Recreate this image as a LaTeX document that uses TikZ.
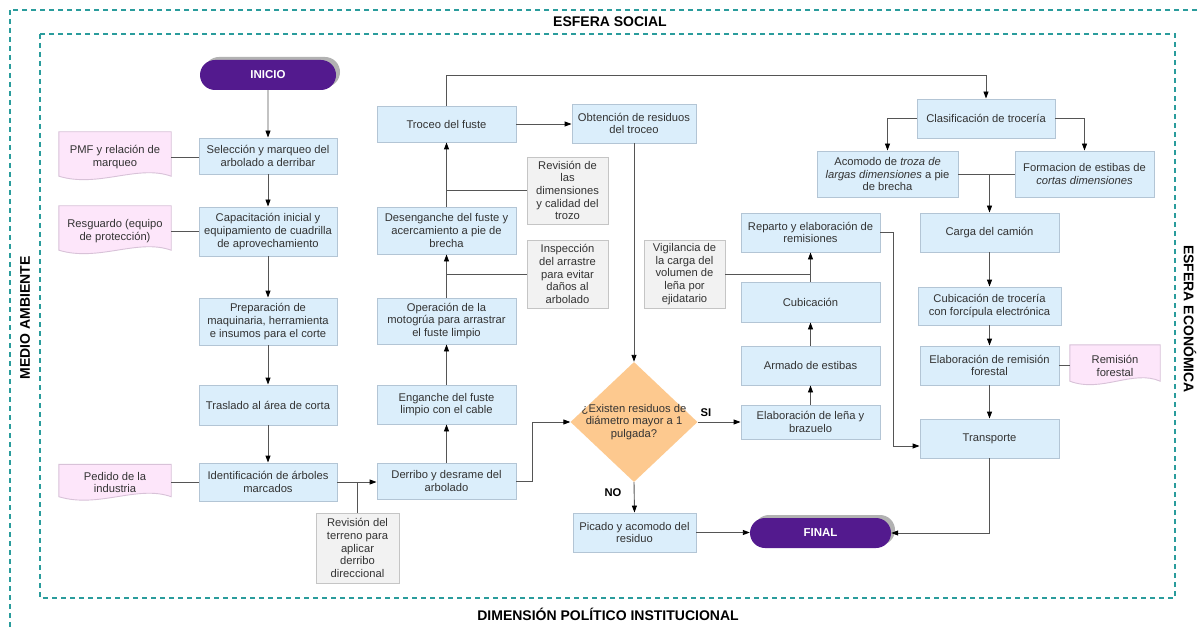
\documentclass[tikz,border=0pt]{standalone}
\usepackage{fontspec}
\setmainfont{Liberation Sans}
\usetikzlibrary{shapes.misc,shapes.geometric,arrows.meta,calc,backgrounds,shadows}
\definecolor{boxfill}{HTML}{DBEEFB}
\definecolor{boxline}{HTML}{B3C5D5}
\definecolor{docfill}{HTML}{FDE6FA}
\definecolor{docline}{HTML}{D8C2D8}
\definecolor{grayfill}{HTML}{F2F2F2}
\definecolor{grayline}{HTML}{C5C5C5}
\definecolor{dfill}{HTML}{FDC98F}
\definecolor{purp}{HTML}{531A8E}
\definecolor{tealc}{HTML}{2A9C9C}
\definecolor{conn}{HTML}{555555}
\definecolor{txt}{HTML}{333333}
\newcommand\docshape[2]{%
  \filldraw[fill=docfill, draw=docline, line width=0.9pt]
   (#1.north west) -- (#1.north east) -- ([yshift=#2]#1.south east)
   .. controls ($(#1.south west)!0.7!(#1.south east)+(0,12pt)+(0,#2)$)
   and ($(#1.south west)!0.35!(#1.south east)+(0,-12pt)+(0,#2)$)
   .. ([yshift=#2]#1.south west) -- cycle;}
\begin{document}
\begin{tikzpicture}[x=1pt,y=-1pt,
  font=\fontsize{11.2}{12.7}\selectfont,
  base/.style={align=center, inner sep=0pt, text=txt},
  box/.style={base, rectangle, draw=boxline, fill=boxfill, line width=0.9pt},
  note/.style={base, rectangle, draw=grayline, fill=grayfill, line width=0.9pt},
  doc/.style={base},
  term/.style={rounded rectangle, fill=purp, text=white, inner sep=0pt,
     font=\fontsize{11.5}{13}\selectfont\bfseries, minimum height=30pt,
     drop shadow={shadow xshift=4pt, shadow yshift=3pt, fill=black!30, opacity=1}},
  arr/.style={draw=conn, line width=0.9pt, -{Triangle[length=7pt,width=5pt,color=black]}},
  ln/.style={draw=conn, line width=0.9pt},
  title/.style={font=\fontsize{14}{16}\selectfont\bfseries, text=black, inner sep=0pt},
  lbl/.style={font=\fontsize{11.2}{13}\selectfont\bfseries, text=black, inner sep=0pt},
  frame/.style={draw=tealc, line width=1.4pt, dash pattern=on 5pt off 4pt}
]
\useasboundingbox (0,0) rectangle (1198,628);
\clip (0,0) rectangle (1198,628);

% frames
\draw[frame] (10,10) rectangle (1215,645);
\draw[frame] (40,34) rectangle (1175,598);
\node[title] (tsoc) at (610,22) {ESFERA SOCIAL};
\node[title] (tpol) at (608,614) {DIMENSIÓN POLÍTICO INSTITUCIONAL};
\node[title, rotate=90] (tmed) at (25,318) {MEDIO AMBIENTE};
\node[title, rotate=-90] (teco) at (1190,319) {ESFERA ECONÓMICA};

% column 1 documents
\node[doc, minimum width=112pt, minimum height=50pt] (pmf) at (115,157) {PMF y relación de\\marqueo};
\node[doc, minimum width=112pt, minimum height=50pt] (resg) at (115,231) {Resguardo (equipo\\de protección)};
\node[doc, minimum width=112pt, minimum height=36pt] (ped) at (115,482.5) {Pedido de la\\industria};
\node[doc, minimum width=90pt, minimum height=42pt] (remf) at (1115,366) {Remisión\\forestal};
\begin{pgfonlayer}{background}
\fill[white] (0,0) rectangle (1198,628);
\docshape{pmf}{6pt}
\docshape{resg}{6pt}
\docshape{ped}{4pt}
\docshape{remf}{6pt}
\end{pgfonlayer}

% column 2
\node[term, minimum width=136pt] (inicio) at (268,75) {INICIO};
\node[box, minimum width=138pt, minimum height=36pt] (sel) at (268,156) {Selección y marqueo del\\arbolado a derribar};
\node[box, minimum width=138pt, minimum height=49pt] (cap) at (268,231.5) {Capacitación inicial y\\equipamiento de cuadrilla\\de aprovechamiento};
\node[box, minimum width=138pt, minimum height=47pt] (prep) at (268,321.5) {Preparación de\\maquinaria, herramienta\\e insumos para el corte};
\node[box, minimum width=138pt, minimum height=40pt] (tras) at (268,405) {Traslado al área de corta};
\node[box, minimum width=138pt, minimum height=38pt] (ident) at (268,482) {Identificación de árboles\\marcados};

% column 3
\node[box, minimum width=139pt, minimum height=36pt] (troceo) at (446.5,124) {Troceo del fuste};
\node[box, minimum width=139pt, minimum height=47pt] (desen) at (446.5,230.5) {Desenganche del fuste y\\acercamiento a pie de\\brecha};
\node[box, minimum width=139pt, minimum height=46pt] (oper) at (446.5,321) {Operación de la\\motogrúa para arrastrar\\el fuste limpio};
\node[box, minimum width=139pt, minimum height=39pt] (engan) at (446.5,404.5) {Enganche del fuste\\limpio con el cable};
\node[box, minimum width=139pt, minimum height=36pt] (derribo) at (446.5,481) {Derribo y desrame del\\arbolado};

% notes
\node[note, minimum width=83pt, minimum height=70pt] (revt) at (357.5,548) {Revisión del\\terreno para\\aplicar\\derribo\\direccional};
\node[note, minimum width=81pt, minimum height=67pt] (revd) at (567.5,190.5) {Revisión de\\las\\dimensiones\\y calidad del\\trozo};
\node[note, minimum width=81pt, minimum height=68pt] (insp) at (567.5,274) {Inspección\\del arrastre\\para evitar\\daños al\\arbolado};
\node[note, minimum width=81pt, minimum height=68pt] (vig) at (684.5,274) {Vigilancia de\\la carga del\\volumen de\\leña por\\ejidatario};

% middle
\node[box, minimum width=124pt, minimum height=39pt] (obt) at (634,123.5) {Obtención de residuos\\del troceo};
\node[diamond, fill=dfill, minimum width=127pt, minimum height=120pt, inner sep=0pt] (dq) at (634,422) {};
\node[base] (dqt) at (634,422) {¿Existen residuos de\\diámetro mayor a 1\\pulgada?};
\node[box, minimum width=123pt, minimum height=39pt] (pic) at (634.5,532.5) {Picado y acomodo del\\residuo};
\node[term, minimum width=141pt] (final) at (820.5,533) {FINAL};
\node[lbl] (si) at (706,413) {SI};
\node[lbl] (no) at (613,493) {NO};

% column reparto
\node[box, minimum width=139pt, minimum height=39pt] (rep) at (810.5,232.5) {Reparto y elaboración de\\remisiones};
\node[box, minimum width=139pt, minimum height=40pt] (cubic) at (810.5,302) {Cubicación};
\node[box, minimum width=139pt, minimum height=39pt] (arm) at (810.5,365.5) {Armado de estibas};
\node[box, minimum width=139pt, minimum height=34pt] (lena) at (810.5,422) {Elaboración de leña y\\brazuelo};

% right column
\node[box, minimum width=138pt, minimum height=39pt] (clas) at (986,118.5) {Clasificación de trocería};
\node[box, minimum width=141pt, minimum height=46pt] (acom) at (887.5,174) {Acomodo de \textit{troza de}\\\textit{largas dimensiones} a pie\\de brecha};
\node[box, minimum width=139pt, minimum height=46pt] (form) at (1084.5,174) {Formacion de estibas de\\\textit{cortas dimensiones}};
\node[box, minimum width=139pt, minimum height=39pt] (carga) at (989.5,232.5) {Carga del camión};
\node[box, minimum width=143pt, minimum height=38pt] (cubt) at (989.5,306) {Cubicación de trocería\\con forcípula electrónica};
\node[box, minimum width=139pt, minimum height=39pt] (elabr) at (989.5,365.5) {Elaboración de remisión\\forestal};
\node[box, minimum width=139pt, minimum height=39pt] (transp) at (989.5,438.5) {Transporte};

% connectors column 2
\draw[arr] (inicio) -- (sel);
\draw[arr] (sel) -- (cap);
\draw[arr] (cap) -- (prep);
\draw[arr] (prep) -- (tras);
\draw[arr] (tras) -- (ident);
\draw[ln] (pmf.east) -- (pmf.east -| sel.west);
\draw[ln] (resg.east) -- (resg.east -| cap.west);
\draw[ln] (ped.east) -- (ped.east -| ident.west);
\draw[arr] (ident.east) -- (ident.east -| derribo.west);
\draw[ln] (revt.north) -- (revt.north |- ident.east);

% column 3
\draw[arr] (derribo) -- (engan);
\draw[arr] (engan) -- (oper);
\draw[arr] (oper) -- (desen);
\draw[arr] (desen) -- (troceo);
\draw[ln] (revd.west) -- (revd.west -| troceo.south);
\draw[ln] (insp.west) -- (insp.west -| desen.south);
\draw[arr] (troceo.east) -- (troceo.east -| obt.west);
\draw[arr] (troceo.north) -- ++(0,-30) -| (clas.north);

% middle
\draw[arr] (obt.south) -- (dq.north);
\draw[arr] (derribo.east) -- ++(16,0) |- (dq.west);
\draw[arr] (dq.east) -- (lena.west);
\draw[arr] (dq.south) -- (pic.north);
\draw[arr] (pic.east) -- (pic.east -| final.west);

% reparto column
\draw[arr] (lena) -- (arm);
\draw[arr] (arm) -- (cubic);
\draw[arr] (cubic) -- (rep);
\draw[ln] (vig.east) -- (vig.east -| cubic.north);
\draw[arr] (rep.east) -- ++(13,0) |- ([yshift=-7.5pt]transp.west);

% right column
\draw[arr] (clas.west) -| (acom.north);
\draw[arr] (clas.east) -| (form.north);
\draw[ln] (acom.east) -- (form.west);
\coordinate (mid) at (carga.north |- acom.east);
\draw[arr] (mid) -- (carga.north);
\draw[arr] (carga) -- (cubt);
\draw[arr] (cubt) -- (elabr);
\draw[arr] (elabr) -- (transp);
\draw[ln] (elabr.east) -- (elabr.east -| remf.west);
\draw[arr] (transp.south) |- (final.east);
\end{tikzpicture}
\end{document}
